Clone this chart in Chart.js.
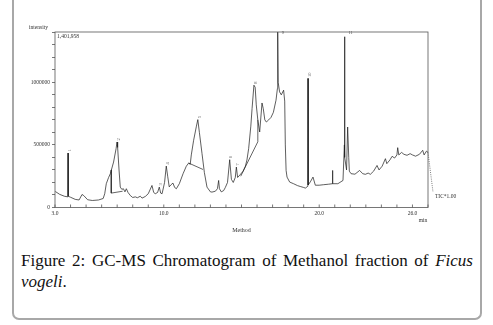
<!DOCTYPE html>
<html><head><meta charset="utf-8">
<script src="https://cdn.jsdelivr.net/npm/chart.js@4.4.0/dist/chart.umd.min.js"></script>
<style>
html,body{margin:0;padding:0;background:#fff;}
body{width:493px;height:325px;position:relative;overflow:hidden;}
#frame{position:absolute;left:12px;top:-12px;width:466px;height:330px;border:2px solid #a8a8a8;border-top:none;border-radius:0 0 7px 7px;}
#wrap{position:absolute;left:0;top:0;width:493px;height:245px;}
#caption{position:absolute;left:21px;top:250px;width:452px;font-family:"Liberation Serif",serif;font-size:17px;line-height:21px;text-align:justify;color:#111;}
</style></head>
<body>
<div id="frame"></div>
<div id="wrap"><canvas id="c" width="493" height="245"></canvas></div>
<div id="caption">Figure 2: GC-MS Chromatogram of Methanol fraction of <i>Ficus vogeli</i>.</div>
<script>
// Retention time (min) and TIC intensity
const retentionTime = [3.02,3.3,3.6,3.83,3.84,3.85,4.0,4.3,4.55,4.74,4.85,5.1,5.4,5.8,6.1,6.2,6.3,6.45,6.56,6.77,6.93,6.99,7.03,7.12,7.2,7.3,7.4,7.5,7.59,7.7,7.85,8.0,8.17,8.3,8.49,8.6,8.81,9.0,9.24,9.35,9.45,9.6,9.71,9.8,9.89,10.05,10.16,10.25,10.35,10.45,10.59,10.7,10.81,11.0,11.24,11.45,11.60,11.7,11.77,11.92,12.1,12.19,12.29,12.46,12.61,12.78,13.0,13.1,13.32,13.45,13.53,13.58,13.7,13.85,13.96,14.1,14.24,14.35,14.47,14.6,14.67,14.75,14.9,15.1,15.25,15.35,15.46,15.6,15.68,15.80,15.88,15.95,16.05,16.17,16.32,16.40,16.5,16.6,16.75,16.9,17.05,17.22,17.31,17.33,17.36,17.45,17.56,17.71,17.78,17.82,17.87,17.93,18.10,18.35,18.6,18.78,19.0,19.11,19.27,19.28,19.29,19.43,19.60,19.75,20.0,20.28,20.6,20.85,20.86,20.87,21.2,21.53,21.62,21.63,21.65,21.76,21.83,21.90,21.94,22.05,22.3,22.6,22.8,22.97,23.15,23.29,23.5,23.72,23.85,24.05,24.26,24.35,24.55,24.69,24.85,25.0,25.05,25.12,25.3,25.45,25.65,25.85,26.0,26.2,26.45,26.66,26.75,26.9,27.0];
const intensity = [128000,105000,90000,85000,435000,90000,82000,65000,60000,104000,95000,62000,56000,60000,72000,110000,190000,240000,270000,363000,470000,523000,480000,300000,163000,145000,150000,125000,150000,120000,95000,80000,85000,78000,90000,75000,88000,110000,176000,120000,110000,120000,163000,115000,110000,200000,331000,250000,165000,180000,195000,160000,150000,190000,270000,330000,355000,345000,420000,537000,650000,702000,600000,430000,280000,163000,125000,123000,130000,150000,216000,150000,125000,135000,160000,200000,382000,225000,200000,240000,323000,240000,260000,290000,330000,380000,470000,650000,790000,977000,960000,820000,700000,603000,835000,790000,700000,683000,700000,720000,760000,857000,950000,1401958,1000000,924000,900000,937000,850000,500000,296000,243000,203000,190000,175000,168000,160000,155000,170000,1031000,180000,205000,243000,178000,178000,182000,186000,190000,296000,190000,190000,216000,500000,1364000,400000,300000,643000,400000,290000,270000,266000,296000,270000,265000,275000,265000,290000,336000,300000,330000,390000,350000,380000,409000,395000,420000,478000,420000,440000,425000,417000,430000,420000,410000,425000,457000,420000,450000,440000];
// Integration baseline segments drawn by the GC-MS software (null = break)
const baselineTime = [6.62,6.62,7.35,null,11.6,12.52,null,14.95,16.05,16.05];
const baselineIntensity = [300000,115000,130000,null,355000,304000,null,250000,525000,700000];
// Numbered peaks
const peakTime = [3.84,6.99,9.71,10.16,12.19,14.24,14.67,15.80,17.33,19.28,21.63];
const peakIntensity = [435000,523000,163000,331000,702000,382000,323000,977000,1401958,1031000,1364000];
const peakNumber = ["1","2","3","4","5","6","7","8","9","10","11"];
// Axis ticks and labels
const xLabelTicks = [3,10,20,26];
const yTickValues = [0,100000,200000,300000,400000,500000,600000,700000,800000,900000,1000000,1100000,1200000,1300000,1400000];
const yLabelTicks = [0,500000,1000000];
const yMax = 1401958;

const FONT = '"Liberation Serif", "Times New Roman", serif';
const traceData = retentionTime.map((t,i)=>({x:t,y:intensity[i]}));
const baseData = baselineTime.map((t,i)=>({x:t,y:baselineIntensity[i]}));

const decor = {
  id:'decor',
  afterDraw(chart){
    const ctx = chart.ctx, a = chart.chartArea, xs = chart.scales.x, ys = chart.scales.y;
    ctx.save();
    ctx.strokeStyle = '#555'; ctx.lineWidth = 0.8;
    ctx.strokeRect(a.left, a.top, a.right-a.left, a.bottom-a.top);
    // inward x ticks
    ctx.beginPath();
    xs.ticks.forEach(t=>{const px = xs.getPixelForValue(t.value); ctx.moveTo(px, a.bottom); ctx.lineTo(px, a.bottom-3);});
    ctx.stroke();
    ctx.fillStyle = '#333';
    ctx.font = '5.5px ' + FONT;
    ctx.textBaseline = 'middle'; ctx.textAlign = 'left';
    ctx.fillText('intensity', 29, 27.5);
    ctx.fillText(yMax.toLocaleString('en-US'), a.left + 2, a.top + 4.5);
    ctx.textAlign = 'center';
    ctx.fillText('min', 423, 221);
    // TIC label with dotted connector
    const last = traceData[traceData.length-1];
    const lx = xs.getPixelForValue(last.x), ly = ys.getPixelForValue(last.y);
    ctx.setLineDash([1,1.2]);
    ctx.strokeStyle = '#444'; ctx.lineWidth = 0.7;
    ctx.beginPath(); ctx.moveTo(lx, ly); ctx.lineTo(lx+5, 192); ctx.stroke();
    ctx.setLineDash([]);
    ctx.textAlign = 'left';
    ctx.fillText('TIC*1.00', lx+7, 197);
    // peak numbers
    ctx.font = '4.5px ' + FONT;
    ctx.fillStyle = '#555';
    peakTime.forEach((t,i)=>{
      const px = xs.getPixelForValue(t), py = ys.getPixelForValue(peakIntensity[i]);
      ctx.save();
      if (py < a.top + 8) {
        ctx.translate(px + 4, a.top + 0.5);
        ctx.textAlign = 'left'; ctx.textBaseline = 'middle';
        ctx.fillText(peakNumber[i], 0, 0);
      } else {
        ctx.translate(px + 1.5, py - 1.5);
        ctx.rotate(-Math.PI/2);
        ctx.textAlign = 'left'; ctx.textBaseline = 'middle';
        ctx.fillText(peakNumber[i], 0, 0);
      }
      ctx.restore();
    });
    ctx.restore();
  }
};

const near = (v, list, tol) => list.some(l => Math.abs(v - l) < tol);

new Chart(document.getElementById('c'), {
  type:'line',
  data:{datasets:[
    {data:traceData, borderColor:'#1a1a1a', borderWidth:0.7, borderJoinStyle:'bevel', pointRadius:0, tension:0, fill:false},
    {data:baseData, borderColor:'#222', borderWidth:0.7, borderJoinStyle:'bevel', pointRadius:0, tension:0, fill:false, spanGaps:false}
  ]},
  options:{
    responsive:false, animation:false, devicePixelRatio:1,
    layout:{padding:{top:32,right:65,bottom:0,left:0}},
    plugins:{legend:{display:false}, tooltip:{enabled:false}},
    scales:{
      x:{type:'linear', min:3, max:27,
        afterFit(s){ s.height = 37.5; },
        border:{display:false},
        grid:{display:false, drawTicks:false},
        ticks:{stepSize:1, autoSkip:false, maxRotation:0, padding:3, color:'#333',
          font:{family:FONT, size:5.5},
          callback:(v)=> near(v, xLabelTicks, 0.01) ? Math.round(v).toFixed(1) : ''},
        title:{display:true, text:'Method', color:'#333', font:{family:FONT, size:6}, padding:{top:0,bottom:10.5}}
      },
      y:{type:'linear', min:0, max:yMax,
        afterFit(s){ s.width = 55; },
        afterBuildTicks(s){ s.ticks = yTickValues.map(v=>({value:v})); },
        border:{display:false},
        grid:{display:true, drawOnChartArea:false, drawTicks:true, tickLength:3, color:'#555', lineWidth:0.8},
        ticks:{autoSkip:false, padding:2, color:'#333',
          font:{family:FONT, size:5.5},
          callback:(v)=> near(v, yLabelTicks, 1) ? String(Math.round(v)) : ''}
      }
    }
  },
  plugins:[decor]
});
</script>
</body></html>
